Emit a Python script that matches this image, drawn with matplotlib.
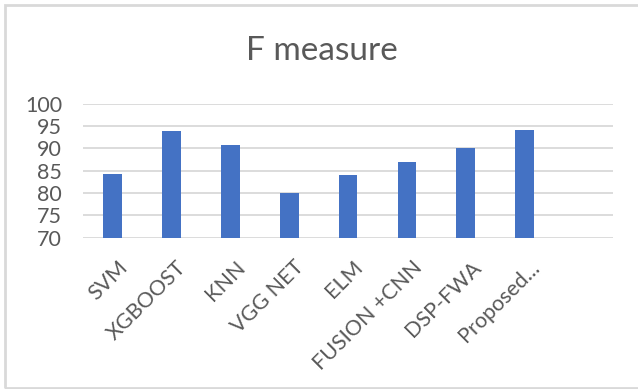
import numpy as np
import matplotlib.pyplot as plt
import matplotlib.transforms as mtransforms
from matplotlib.patches import Rectangle

# F measure per method (last slot is left empty)
methods = ["SVM", "XGBOOST", "KNN", "VGG NET", "ELM", "FUSION +CNN", "DSP-FWA", "Proposed...", ""]
f_measure = [84.3, 93.9, 90.8, 80.0, 84.0, 87.0, 90.2, 94.2, np.nan]

text_col = "#595959"
grid_col = "#D9D9D9"
bar_col = "#4472C4"

plt.rcParams['font.family'] = ['Lato', 'DejaVu Sans']

fig = plt.figure(figsize=(6.38, 3.89), dpi=100)
ax = fig.add_axes([0.130, 0.389, 0.831, 0.344])

x = np.arange(len(methods))
ax.bar(x, f_measure, width=0.32, color=bar_col, zorder=3)

ax.set_ylim(70, 100)
ax.set_xlim(-0.5, len(methods) - 0.5)
ax.set_yticks(range(70, 101, 5))
ax.yaxis.grid(True, color=grid_col, linewidth=1.3, zorder=0)
ax.set_xticks(x)
ax.set_xticklabels(methods, rotation=45, ha='right', rotation_mode='anchor')
ax.tick_params(axis='y', length=0, labelsize=15.5, labelcolor=text_col, pad=15)
ax.tick_params(axis='x', length=0, labelsize=15.5, labelcolor=text_col, pad=14)
# nudge the slanted category labels a little to the right
shift = mtransforms.ScaledTranslation(5 / 100, 0, fig.dpi_scale_trans)
for lbl in ax.get_xticklabels():
    lbl.set_transform(lbl.get_transform() + shift)
for s in ax.spines.values():
    s.set_visible(False)

fig.text(0.505, 0.87, "F measure", ha='center', va='center', fontsize=24, color=text_col)

# chart border
fig.patches.append(Rectangle((5 / 638, 1 / 389), 640 / 638, 383 / 389, transform=fig.transFigure,
                             fill=False, edgecolor="#D9D9D9", linewidth=2))

fig.savefig("out.png", dpi=100)
